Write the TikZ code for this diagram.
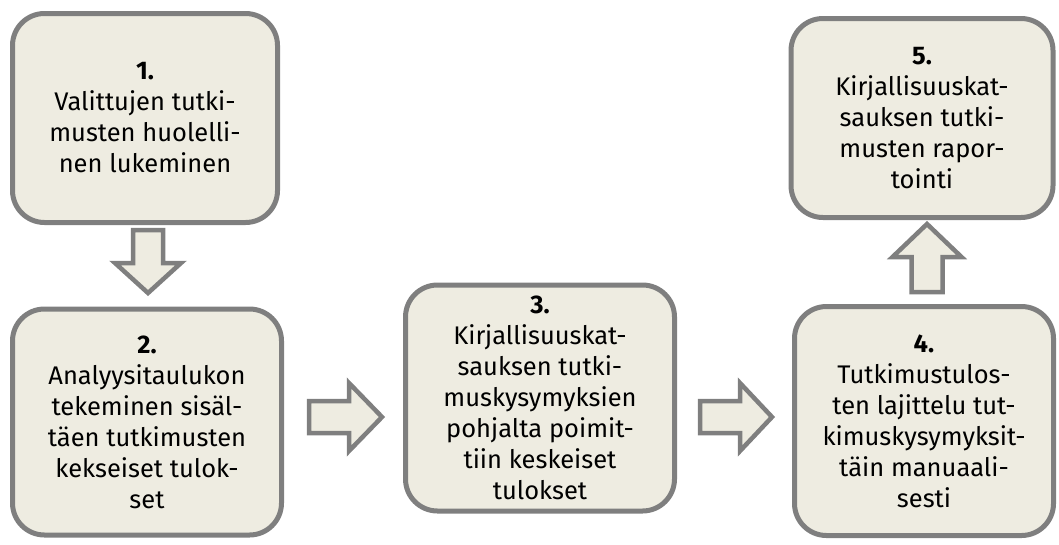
\documentclass[tikz,border=0pt]{standalone}
\usepackage{fontspec}
\setmainfont{Fira Sans}
\usepackage{xcolor}
\usetikzlibrary{calc}
\definecolor{boxfill}{HTML}{EEECE1}
\definecolor{boxline}{HTML}{7F7F7F}

\begin{document}
\begin{tikzpicture}[
x = 1pt, y = -1pt,
stepbox/.style={rectangle, align = center, 
draw = boxline, 
fill = boxfill, line width = 5pt, rounded corners = 32pt, inner sep = 0pt,
font = \fontsize{25.5}{31}\selectfont},
blockarr/.style={draw = boxline, fill = boxfill, line width = 4.5pt, line join = miter}]

\useasboundingbox (0,0) rectangle (1059,544);

\node[stepbox, minimum width = 265pt, minimum height = 209pt] (S1) at (145,118) {\textbf{1.}\\Valittujen tutki-\\musten huolelli-\\nen lukeminen};
\node[stepbox, minimum width = 269pt, minimum height = 226pt] (S2) at (147,422) {\textbf{2.}\\Analyysitaulukon\\tekeminen sisäl-\\täen tutkimusten\\kekseiset tulok-\\set};
\node[stepbox, minimum width = 269pt, minimum height = 226pt] (S3) at (540,398) {\textbf{3.}\\Kirjallisuuskat-\\sauksen tutki-\\muskysymyksien\\pohjalta poimit-\\tiin keskeiset\\tulokset};
\node[stepbox, minimum width = 259pt, minimum height = 229pt] (S4) at (924,421) {\textbf{4.}\\Tutkimustulos-\\ten lajittelu tut-\\kimuskysymyksit-\\täin manuaali-\\sesti};
\node[stepbox, minimum width = 262pt, minimum height = 199pt] (S5) at (922,118) {\textbf{5.}\\Kirjallisuuskat-\\sauksen tutki-\\musten rapor-\\tointi};

% block arrows between the steps
\draw[blockarr, shift={(148,262)}] (-15,-32) -- (15,-32) -- (15,1) -- (33,1) -- (0,31) -- (-33,1) -- (-15,1) -- cycle;
\draw[blockarr, shift={(345,417)}] (-36,-16) -- (4,-16) -- (4,-34) -- (37,0) -- (4,34) -- (4,16) -- (-36,16) -- cycle;
\draw[blockarr, shift={(736,417)}] (-36,-16) -- (4,-16) -- (4,-34) -- (36,0) -- (4,34) -- (4,16) -- (-36,16) -- cycle;
\draw[blockarr, shift={(927,258)}] (-15.5,34) -- (15.5,34) -- (15.5,-1) -- (34.5,-1) -- (0,-34) -- (-34.5,-1) -- (-15.5,-1) -- cycle;
\end{tikzpicture}
\end{document}
